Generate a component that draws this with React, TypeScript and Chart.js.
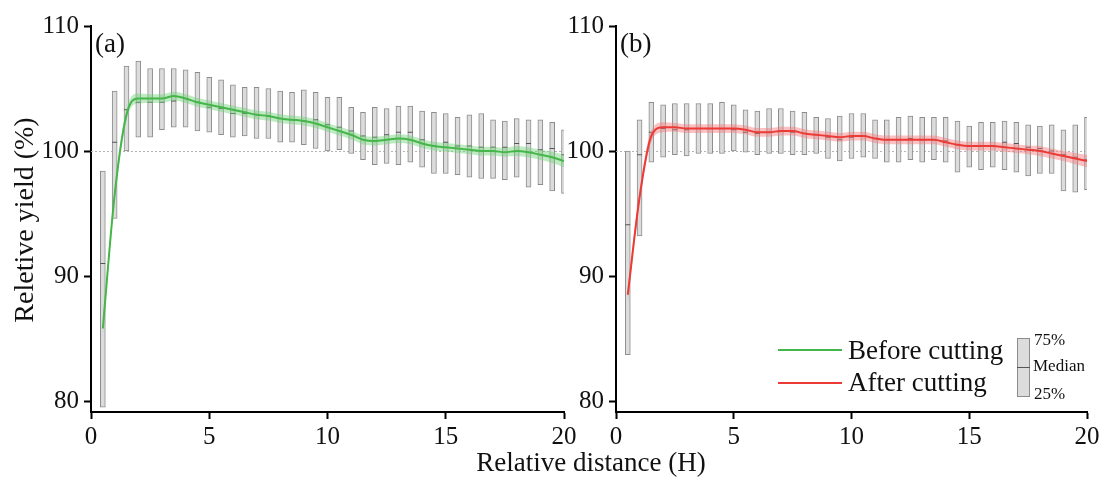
import React, { useEffect, useRef } from "react";
import { Chart, registerables } from "chart.js";

Chart.register(...registerables);

const FONT = "'Liberation Serif', 'Times New Roman', serif";

const positions = [
  0.5, 1.0, 1.5, 2.0, 2.5, 3.0, 3.5, 4.0, 4.5, 5.0,
  5.5, 6.0, 6.5, 7.0, 7.5, 8.0, 8.5, 9.0, 9.5, 10.0,
  10.5, 11.0, 11.5, 12.0, 12.5, 13.0, 13.5, 14.0, 14.5, 15.0,
  15.5, 16.0, 16.5, 17.0, 17.5, 18.0, 18.5, 19.0, 19.5, 20.0,
];

const xTicks = [0, 5, 10, 15, 20];
const yTicks = [80, 90, 100, 110];

// (a) Before cutting
const beforeQ75 = [
  98.4, 104.8, 106.8, 107.2, 106.6, 106.6, 106.6, 106.5, 106.3, 105.9,
  105.7, 105.3, 105.1, 105.1, 105.0, 104.8, 104.7, 104.9, 104.7, 104.3,
  104.3, 103.5, 103.1, 103.5, 103.4, 103.6, 103.6, 103.2, 103.1, 103.0,
  102.7, 102.9, 103.0, 102.5, 102.4, 102.6, 102.5, 102.5, 102.3, 101.7,
];
const beforeQ25 = [
  79.5, 94.6, 100.0, 101.1, 101.1, 101.7, 101.9, 101.9, 101.6, 101.5,
  101.3, 101.1, 101.2, 101.0, 101.0, 100.7, 100.7, 100.5, 100.2, 100.0,
  100.1, 99.8, 99.3, 98.9, 99.0, 98.9, 99.1, 98.7, 98.2, 98.2,
  98.1, 97.9, 97.8, 97.8, 97.7, 97.9, 97.1, 97.3, 96.8, 96.6,
];
const beforeMedian = [
  91.0, 100.7, 103.3, 103.9, 103.9, 103.9, 104.0, 104.2, 103.9, 103.5,
  103.4, 103.0, 103.0, 102.9, 102.8, 102.6, 102.5, 102.4, 102.5, 102.1,
  101.9, 101.6, 101.2, 101.1, 101.3, 101.5, 101.5, 100.9, 100.4, 100.7,
  100.4, 100.4, 100.3, 100.3, 100.3, 100.6, 100.6, 100.1, 100.2, 99.7,
];
const beforeLine = [
  85.8, 96.5, 102.9, 104.2, 104.2, 104.2, 104.4, 104.2, 103.9, 103.7,
  103.5, 103.3, 103.1, 102.9, 102.8, 102.6, 102.5, 102.4, 102.2, 101.9,
  101.6, 101.3, 100.9, 100.8, 100.9, 101.0, 100.9, 100.6, 100.4, 100.3,
  100.2, 100.1, 100.0, 100.0, 99.9, 100.0, 99.9, 99.7, 99.5, 99.2,
];
const beforeCI = [
  0.6, 0.5, 0.45, 0.4, 0.35, 0.35, 0.35, 0.35, 0.35, 0.35,
  0.35, 0.35, 0.35, 0.35, 0.35, 0.35, 0.35, 0.35, 0.35, 0.35,
  0.35, 0.35, 0.35, 0.35, 0.35, 0.35, 0.35, 0.35, 0.35, 0.35,
  0.35, 0.35, 0.35, 0.35, 0.35, 0.4, 0.4, 0.4, 0.45, 0.5,
];

// (b) After cutting
const afterQ75 = [
  100.0, 102.5, 103.9, 103.7, 103.8, 103.8, 103.8, 103.8, 103.9, 103.7,
  103.3, 103.2, 103.4, 103.4, 103.2, 103.1, 102.7, 102.6, 102.8, 103.0,
  103.0, 102.5, 102.5, 102.7, 102.8, 102.7, 102.7, 102.7, 102.4, 102.0,
  102.3, 102.3, 102.4, 102.3, 102.1, 102.0, 102.1, 101.7, 102.1, 102.7,
];
const afterQ25 = [
  83.7, 93.2, 99.1, 99.5, 99.7, 99.6, 99.8, 99.8, 99.8, 100.0,
  99.9, 99.7, 99.8, 99.8, 99.7, 99.7, 99.8, 99.4, 99.2, 99.4,
  99.5, 99.4, 99.1, 99.1, 99.3, 99.1, 99.3, 99.1, 98.3, 98.7,
  98.5, 98.7, 98.5, 98.3, 98.0, 98.2, 98.2, 96.8, 96.7, 96.9,
];
const afterMedian = [
  94.1, 99.7, 101.5, 101.8, 101.7, 101.7, 101.8, 101.8, 101.8, 101.7,
  101.5, 101.4, 101.5, 101.6, 101.5, 101.4, 101.3, 101.1, 100.9, 101.1,
  101.2, 101.0, 100.9, 100.9, 101.0, 100.9, 100.9, 100.8, 100.5, 100.4,
  100.4, 100.4, 100.7, 100.6, 100.3, 100.2, 100.0, 99.7, 99.5, 99.3,
];
const afterLine = [
  88.5, 96.3, 101.2, 101.9, 101.9, 101.8, 101.8, 101.8, 101.8, 101.8,
  101.7, 101.5, 101.5, 101.6, 101.6, 101.4, 101.3, 101.2, 101.1, 101.2,
  101.2, 101.0, 100.9, 100.9, 100.9, 100.9, 100.9, 100.7, 100.5, 100.4,
  100.4, 100.4, 100.3, 100.2, 100.1, 100.0, 99.8, 99.6, 99.4, 99.2,
];
const afterCI = [
  0.6, 0.5, 0.45, 0.4, 0.35, 0.35, 0.35, 0.35, 0.35, 0.35,
  0.35, 0.35, 0.35, 0.35, 0.35, 0.35, 0.35, 0.35, 0.35, 0.35,
  0.35, 0.35, 0.35, 0.35, 0.35, 0.35, 0.35, 0.35, 0.35, 0.35,
  0.35, 0.35, 0.35, 0.35, 0.35, 0.4, 0.4, 0.4, 0.45, 0.5,
];

const seriesLabels = ["Before cutting", "After cutting"];
const boxLegendLabels = ["75%", "Median", "25%"];

const GREEN = "#45b649";
const GREEN_BAND = "rgba(110, 210, 120, 0.45)";
const RED = "#ec3b36";
const RED_BAND = "rgba(245, 120, 120, 0.45)";
const BOX_FILL = "#dcdcdc";
const BOX_EDGE = "#8c8c8c";

type PanelSpec = {
  q25: number[];
  q75: number[];
  med: number[];
  line: number[];
  ci: number[];
  color: string;
  band: string;
  tag: string;
  padLeft: number;
  padRight: number;
  yWidth: number;
  left: boolean;
};

function buildConfig(p: PanelSpec): any {
  const linePts = positions.map((x, i) => ({ x, y: p.line[i] }));
  const lowPts = positions.map((x, i) => ({ x, y: p.line[i] - p.ci[i] }));
  const upPts = positions.map((x, i) => ({ x, y: p.line[i] + p.ci[i] }));
  const medPts = positions.map((x, i) => ({ x, y: p.med[i] }));
  const boxes = positions.map((x, i) => ({ x, y: [p.q25[i], p.q75[i]] }));

  const decor = {
    id: "decor" + p.tag,
    beforeDatasetsDraw(chart: any) {
      const { ctx, chartArea, scales } = chart;
      const y100 = scales.y.getPixelForValue(100);
      ctx.save();
      ctx.strokeStyle = "#b4b4b4";
      ctx.lineWidth = 1;
      ctx.setLineDash([2, 2]);
      ctx.beginPath();
      ctx.moveTo(chartArea.left, y100 + 0.5);
      ctx.lineTo(chartArea.right, y100 + 0.5);
      ctx.stroke();
      ctx.restore();
    },
    afterDraw(chart: any) {
      const { ctx, chartArea } = chart;
      ctx.save();
      ctx.fillStyle = "#111";
      ctx.textBaseline = "middle";
      ctx.textAlign = "left";
      ctx.font = `27px ${FONT}`;
      ctx.fillText(p.tag, chartArea.left + 4, 45);
      if (p.left) {
        ctx.textAlign = "center";
        ctx.fillText("Relative distance (H)", 591, 464);
        ctx.save();
        ctx.translate(26, 220);
        ctx.rotate(-Math.PI / 2);
        ctx.font = `28px ${FONT}`;
        ctx.fillText("Reletive yield (%)", 0, 0);
        ctx.restore();
      } else {
        // series legend
        ctx.lineWidth = 2;
        ctx.strokeStyle = GREEN;
        ctx.beginPath();
        ctx.moveTo(778, 350);
        ctx.lineTo(842, 350);
        ctx.stroke();
        ctx.strokeStyle = RED;
        ctx.beginPath();
        ctx.moveTo(778, 383);
        ctx.lineTo(842, 383);
        ctx.stroke();
        ctx.textAlign = "left";
        ctx.font = `27px ${FONT}`;
        ctx.fillText(seriesLabels[0], 848, 352);
        ctx.fillText(seriesLabels[1], 848, 384);
        // box legend
        ctx.fillStyle = BOX_FILL;
        ctx.fillRect(1017, 338, 12, 58);
        ctx.strokeStyle = BOX_EDGE;
        ctx.lineWidth = 1;
        ctx.strokeRect(1017.5, 338.5, 12, 58);
        ctx.strokeStyle = "#555";
        ctx.beginPath();
        ctx.moveTo(1017, 367.5);
        ctx.lineTo(1030, 367.5);
        ctx.stroke();
        ctx.fillStyle = "#111";
        ctx.font = `17px ${FONT}`;
        ctx.fillText(boxLegendLabels[0], 1034, 341);
        ctx.fillText(boxLegendLabels[1], 1033, 367);
        ctx.fillText(boxLegendLabels[2], 1034, 395);
      }
      ctx.restore();
    },
  };

  const axisCommon = {
    grid: {
      display: true,
      offset: false,
      drawOnChartArea: false,
      drawTicks: true,
      tickLength: 7,
      tickWidth: 2,
      tickColor: "#000",
    },
    border: { display: true, color: "#000", width: 2 },
  };

  return {
    type: "bar",
    data: {
      datasets: [
        {
          type: "line",
          data: linePts,
          borderColor: p.color,
          borderWidth: 2,
          pointRadius: 0,
          cubicInterpolationMode: "monotone",
          fill: false,
          order: 0,
        },
        {
          type: "line",
          data: lowPts,
          borderWidth: 0,
          borderColor: "rgba(0,0,0,0)",
          pointRadius: 0,
          cubicInterpolationMode: "monotone",
          fill: false,
          order: 1,
        },
        {
          type: "line",
          data: upPts,
          borderWidth: 0,
          borderColor: "rgba(0,0,0,0)",
          backgroundColor: p.band,
          pointRadius: 0,
          cubicInterpolationMode: "monotone",
          fill: "-1",
          order: 1,
        },
        {
          type: "scatter",
          data: medPts,
          pointStyle: "line",
          pointRadius: 2.5,
          borderColor: "#555",
          borderWidth: 1,
          order: 2,
        },
        {
          type: "bar",
          data: boxes,
          backgroundColor: BOX_FILL,
          borderColor: BOX_EDGE,
          borderWidth: 1,
          borderSkipped: false,
          barThickness: 5,
          order: 3,
        },
      ],
    },
    options: {
      responsive: false,
      animation: false,
      devicePixelRatio: 1,
      layout: { padding: { left: p.padLeft, right: p.padRight, top: 26, bottom: 0 } },
      plugins: { legend: { display: false }, tooltip: { enabled: false } },
      scales: {
        x: {
          type: "linear",
          min: 0,
          max: 20,
          offset: false,
          afterBuildTicks: (s: any) => {
            s.ticks = xTicks.map((v) => ({ value: v }));
          },
          afterFit: (s: any) => {
            s.height = 66;
          },
          ticks: {
            font: { family: FONT, size: 25 },
            color: "#111",
            padding: 3,
            maxRotation: 0,
            autoSkip: false,
          },
          ...axisCommon,
        },
        y: {
          type: "linear",
          min: 79.12,
          max: 110,
          afterBuildTicks: (s: any) => {
            s.ticks = yTicks.map((v) => ({ value: v }));
          },
          afterFit: (s: any) => {
            s.width = p.yWidth;
          },
          ticks: {
            font: { family: FONT, size: 25 },
            color: "#111",
            padding: 5,
          },
          ...axisCommon,
        },
      },
    },
    plugins: [decor],
  };
}

export default function App() {
  const leftRef = useRef<HTMLCanvasElement>(null);
  const rightRef = useRef<HTMLCanvasElement>(null);

  useEffect(() => {
    const a = new Chart(
      leftRef.current as HTMLCanvasElement,
      buildConfig({
        q25: beforeQ25,
        q75: beforeQ75,
        med: beforeMedian,
        line: beforeLine,
        ci: beforeCI,
        color: GREEN,
        band: GREEN_BAND,
        tag: "(a)",
        padLeft: 0,
        padRight: 539,
        yWidth: 91,
        left: true,
      })
    );
    const b = new Chart(
      rightRef.current as HTMLCanvasElement,
      buildConfig({
        q25: afterQ25,
        q75: afterQ75,
        med: afterMedian,
        line: afterLine,
        ci: afterCI,
        color: RED,
        band: RED_BAND,
        tag: "(b)",
        padLeft: 530,
        padRight: 16,
        yWidth: 86,
        left: false,
      })
    );
    return () => {
      a.destroy();
      b.destroy();
    };
  }, []);

  const canvasStyle: React.CSSProperties = {
    position: "absolute",
    left: 0,
    top: 0,
    width: 1103,
    height: 478,
  };

  return (
    <div
      style={{
        position: "fixed",
        left: 0,
        top: 0,
        width: 1103,
        height: 478,
        background: "#fff",
      }}
    >
      <canvas ref={leftRef} width={1103} height={478} style={canvasStyle} />
      <canvas ref={rightRef} width={1103} height={478} style={canvasStyle} />
    </div>
  );
}
